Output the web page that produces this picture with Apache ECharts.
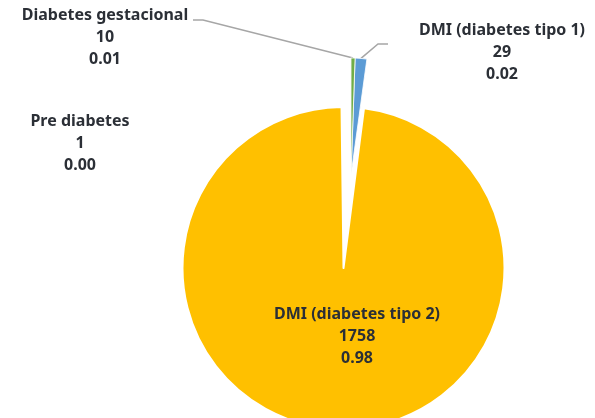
<!DOCTYPE html>
<html>
<head>
<meta charset="utf-8">
<script src="https://cdn.jsdelivr.net/npm/echarts@6/dist/echarts.min.js"></script>
<style>
    html, body { margin: 0; padding: 0; background: #fff; }
    #chart { width: 595px; height: 418px; }
</style>
</head>
<body>
<div id="chart"></div>
<script>
// 数据
const categories = ['DMI (diabetes tipo 1)', 'DMI (diabetes tipo 2)', 'Pre diabetes', 'Diabetes gestacional'];
const counts = [29, 1758, 1, 10];
const colors = ['#5B9BD5', '#FFC000', '#A5A5A5', '#70AD47'];
const bigSlice = 1;

// 标签位置 (像素) 和引导线拐点
const labelPos = [[502, 52], [357, 336], [80, 143], [105, 37]];
const elbows = [[[378, 44], [388, 44]], null, null, [[203, 20], [193, 20]]];

const chart = echarts.init(document.getElementById('chart'));

const labelText = p => p.name + '\n' + p.value + '\n' + (p.percent / 100).toFixed(2);
const labelStyle = {
    fontFamily: 'Noto Sans',
    fontWeight: 'bold',
    fontSize: 16,
    lineHeight: 22,
    color: '#2b2f36',
    align: 'center',
    formatter: labelText
};

const placeLabel = (params) => {
    const i = params.dataIndex;
    const out = { x: labelPos[i][0], y: labelPos[i][1], align: 'center', verticalAlign: 'middle', hideOverlap: false };
    if (elbows[i] && params.labelLinePoints) {
        out.labelLinePoints = [params.labelLinePoints[0]].concat(elbows[i]);
    }
    return out;
};

// 大扇区 (tipo 2)
const bigData = counts.map((v, i) => ({
    name: categories[i],
    value: v,
    itemStyle: i === bigSlice
        ? { color: colors[i], borderColor: '#fff', borderWidth: 2 }
        : { color: 'rgba(0,0,0,0)', borderWidth: 0 },
    label: { show: i === bigSlice },
    labelLine: { show: false }
}));

// 分离出来的小扇区
const smallData = counts.map((v, i) => ({
    name: categories[i],
    value: v,
    itemStyle: i === bigSlice
        ? { color: 'rgba(0,0,0,0)', borderWidth: 0 }
        : { color: colors[i], borderColor: '#fff', borderWidth: 0.8 },
    label: { show: i !== bigSlice },
    labelLine: { show: elbows[i] != null }
}));

chart.setOption({
    animation: false,
    series: [
        {
            type: 'pie',
            silent: true,
            center: [343.5, 268],
            radius: 161,
            startAngle: 88.5,
            clockwise: true,
            avoidLabelOverlap: false,
            data: bigData,
            label: Object.assign({ position: 'inside' }, labelStyle),
            labelLayout: placeLabel
        },
        {
            type: 'pie',
            silent: true,
            center: [351, 175],
            radius: 117,
            startAngle: 88,
            clockwise: true,
            avoidLabelOverlap: false,
            data: smallData,
            label: Object.assign({ position: 'outside' }, labelStyle),
            labelLine: { show: true, length: 10, length2: 10, smooth: false, lineStyle: { color: '#a6a6a6', width: 1.5 } },
            labelLayout: placeLabel
        }
    ]
});
</script>
</body>
</html>
